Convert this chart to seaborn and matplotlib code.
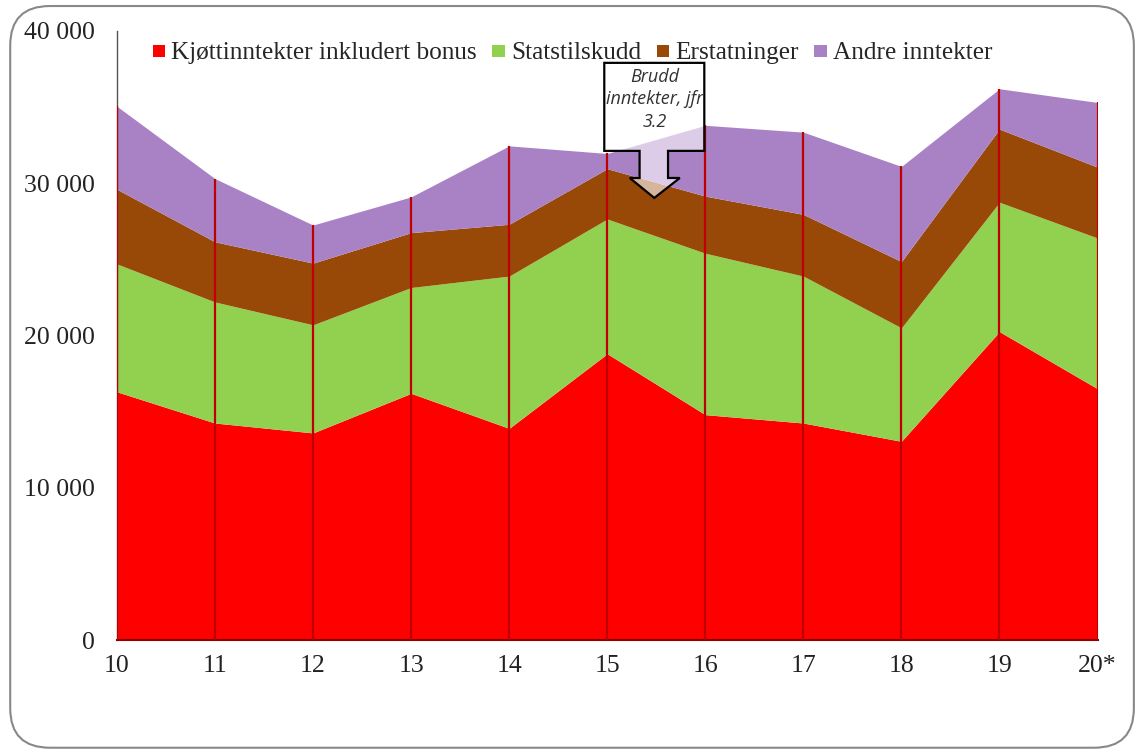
import matplotlib
matplotlib.use("Agg")
import matplotlib.pyplot as plt
import seaborn as sns
from matplotlib.patches import Polygon, FancyBboxPatch

# Data (NOK 1000)
years = [10, 11, 12, 13, 14, 15, 16, 17, 18, 19, 20]
year_labels = ["10", "11", "12", "13", "14", "15", "16", "17", "18", "19", "20*"]
kjott = [16300, 14250, 13600, 16200, 13900, 18800, 14800, 14250, 13050, 20250, 16500]
statstilskudd = [8400, 7950, 7100, 6950, 10000, 8850, 10600, 9650, 7450, 8500, 9900]
erstatninger = [4900, 3950, 4050, 3600, 3400, 3300, 3750, 4050, 4350, 4800, 4650]
andre = [5450, 4150, 2500, 2350, 5150, 1000, 4650, 5400, 6250, 2650, 4250]

series_names = ["Kjøttinntekter inkludert bonus", "Statstilskudd", "Erstatninger", "Andre inntekter"]
colors = ["#FF0000", "#92D050", "#984807", "#A982C6"]
yticks = [0, 10000, 20000, 30000, 40000]
ytick_labels = ["0", "10 000", "20 000", "30 000", "40 000"]

sns.set_style("white")
plt.rcParams["font.family"] = ["Liberation Serif", "DejaVu Serif"]

fig = plt.figure(figsize=(11.35, 7.53), dpi=100)
ax = fig.add_axes([0.103, 0.150, 0.864, 0.809])

ax.stackplot(years, kjott, statstilskudd, erstatninger, andre,
             colors=colors, labels=series_names, linewidth=0)

totals = [a + b + c + d for a, b, c, d in zip(kjott, statstilskudd, erstatninger, andre)]
ax.vlines(years, 0, totals, color="#C00000", linewidth=1.6, zorder=3)

ax.set_xlim(10, 20)
ax.set_ylim(0, 40000)
ax.set_xticks(years)
ax.set_xticklabels(year_labels)
ax.set_yticks(yticks)
ax.set_yticklabels(ytick_labels)
ax.tick_params(axis="both", length=0, labelsize=18.5, colors="#222222")
ax.tick_params(axis="y", pad=16)
ax.tick_params(axis="x", pad=11)

sns.despine(ax=ax, top=True, right=True)
ax.spines["left"].set_color("#555555")
ax.spines["left"].set_linewidth(1.0)
ax.spines["bottom"].set_color("#8B0000")
ax.spines["bottom"].set_linewidth(1.5)

leg = ax.legend(loc="upper left", bbox_to_anchor=(0.026, 0.998), ncol=4, frameon=False,
                fontsize=18.2, handlelength=0.5, handleheight=0.5, handletextpad=0.25,
                columnspacing=0.6, borderaxespad=0)
for h in leg.legend_handles:
    h.set_height(9)
    h.set_width(9)

# Callout "Brudd inntekter"
callout = [(14.97, 37900), (15.99, 37900), (15.99, 32120), (15.62, 32120),
           (15.62, 30340), (15.74, 30340), (15.48, 29030), (15.23, 30340),
           (15.33, 30340), (15.33, 32120), (14.97, 32120)]
ax.add_patch(Polygon(callout, closed=True, facecolor="white", alpha=0.6,
                     edgecolor="none", zorder=4))
ax.add_patch(Polygon(callout, closed=True, facecolor="none",
                     edgecolor="black", linewidth=1.6, zorder=5))
ax.text(15.48, 35500, "Brudd\ninntekter, jfr\n3.2", ha="center", va="center",
        fontsize=13, style="italic", family=["Open Sans", "DejaVu Sans"],
        color="#333333", linespacing=1.3, zorder=6)

# Rounded frame around the whole figure
frame = FancyBboxPatch((0.009, 0.007), 0.99, 0.985, boxstyle="round,pad=0,rounding_size=0.035",
                       transform=fig.transFigure, facecolor="none", edgecolor="#888888",
                       linewidth=1.5, mutation_aspect=1.5)
fig.patches.append(frame)

fig.savefig("out.png", dpi=100)
